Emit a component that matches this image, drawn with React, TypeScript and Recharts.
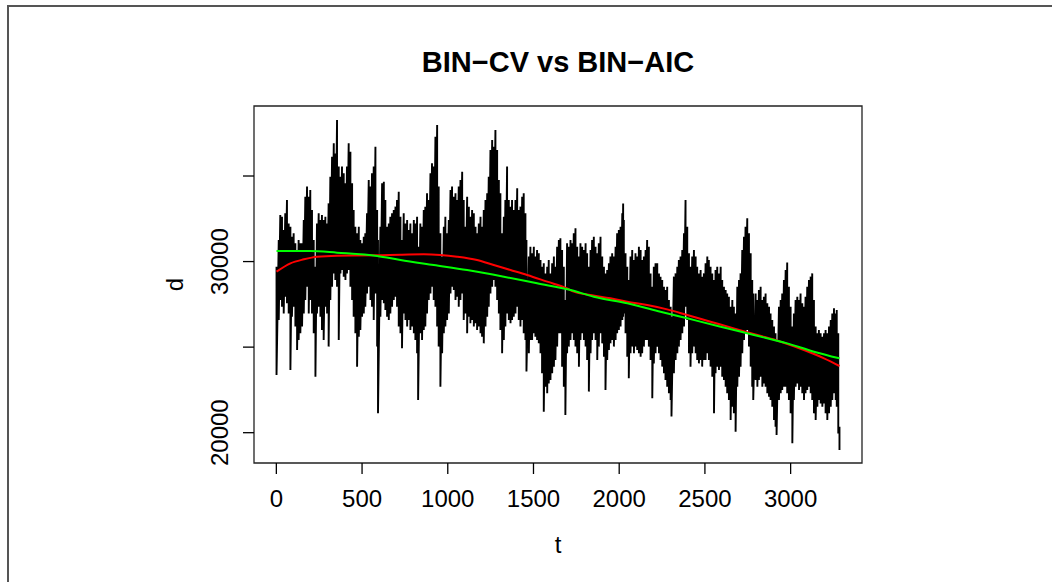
import React from "react";
import { LineChart, Line, XAxis, YAxis, ReferenceArea } from "recharts";

// ---- data ----
const X_TICKS = [0, 500, 1000, 1500, 2000, 2500, 3000];
const Y_TICKS = [20000, 25000, 30000, 35000];
const Y_LABELED = [20000, 30000];
const X_DOMAIN: [number, number] = [-130.36, 3416.36];
const Y_DOMAIN: [number, number] = [18229, 39091];

// sample days of the observed series; at each one the upper and lower extent of the
// daily values around it
const blackT = [
  1, 14, 23, 33, 43, 52, 62, 72, 82, 91, 101, 111, 121, 130, 140, 150, 160, 169, 179, 189,
  198, 208, 218, 228, 237, 247, 257, 266, 276, 286, 296, 305, 315, 325, 335, 344, 354, 364, 374, 383,
  393, 403, 412, 422, 432, 442, 451, 461, 471, 481, 490, 500, 510, 519, 529, 539, 549, 558, 568, 578,
  588, 593, 607, 617, 627, 636, 646, 656, 665, 675, 685, 695, 704, 714, 724, 733, 743, 753, 763, 772,
  782, 792, 802, 811, 821, 827, 840, 850, 860, 869, 879, 889, 899, 908, 918, 928, 938, 947, 957, 967,
  977, 986, 996, 1006, 1016, 1025, 1035, 1045, 1054, 1064, 1074, 1084, 1093, 1103, 1113, 1123, 1132, 1142, 1152, 1162,
  1171, 1181, 1191, 1200, 1210, 1220, 1230, 1239, 1249, 1259, 1268, 1278, 1288, 1298, 1307, 1317, 1327, 1336, 1346, 1356,
  1366, 1375, 1385, 1395, 1405, 1414, 1424, 1434, 1443, 1453, 1459, 1473, 1482, 1492, 1502, 1511, 1521, 1531, 1541, 1550,
  1560, 1570, 1580, 1589, 1599, 1609, 1619, 1628, 1638, 1648, 1657, 1667, 1677, 1686, 1696, 1706, 1716, 1726, 1735, 1745,
  1755, 1765, 1774, 1784, 1794, 1804, 1813, 1823, 1833, 1842, 1852, 1862, 1872, 1881, 1891, 1901, 1911, 1920, 1930, 1940,
  1949, 1959, 1969, 1979, 1988, 1998, 2008, 2018, 2023, 2027, 2037, 2047, 2056, 2066, 2076, 2086, 2095, 2105, 2115, 2125,
  2134, 2144, 2154, 2163, 2173, 2183, 2193, 2202, 2212, 2222, 2232, 2241, 2251, 2261, 2270, 2280, 2290, 2300, 2305, 2319,
  2329, 2339, 2348, 2358, 2368, 2378, 2387, 2397, 2407, 2416, 2426, 2436, 2446, 2455, 2465, 2475, 2484, 2494, 2504, 2514,
  2523, 2533, 2543, 2553, 2562, 2572, 2582, 2592, 2601, 2611, 2621, 2630, 2640, 2650, 2660, 2669, 2679, 2689, 2699, 2708,
  2718, 2728, 2737, 2747, 2757, 2767, 2776, 2782, 2796, 2806, 2815, 2825, 2835, 2844, 2854, 2864, 2874, 2883, 2893, 2903,
  2912, 2918, 2932, 2942, 2951, 2961, 2971, 2980, 2990, 3000, 3010, 3019, 3029, 3039, 3049, 3058, 3068, 3078, 3087, 3097,
  3107, 3117, 3126, 3136, 3146, 3156, 3165, 3175, 3185, 3195, 3204, 3214, 3224, 3234, 3243, 3253, 3263, 3269, 3278, 3285,
];

const blackHi = [
  29700, 31260, 32720, 32620, 31840, 32820, 33600, 32230, 32040, 31450, 31650, 31070, 30680, 31260, 31070, 31070, 32430, 33790, 34380, 33790,
  34180, 33010, 31260, 29700, 32230, 32820, 32430, 32720, 32430, 32620, 32230, 33400, 34960, 36130, 36910, 36320, 38270, 35550, 34960, 35550,
  35160, 34570, 35550, 36910, 36420, 34570, 33010, 32040, 31650, 32040, 31260, 31070, 31450, 31650, 32820, 34770, 34380, 35160, 35550, 36710,
  33010, 31260, 32040, 34570, 34670, 33600, 32040, 32230, 32620, 32820, 33010, 33210, 33600, 34080, 32620, 31260, 32820, 32230, 32430, 31840,
  32230, 31650, 32430, 32230, 32620, 30870, 32230, 32040, 33010, 33210, 33990, 33600, 35160, 35740, 35550, 37300, 37980, 34380, 31650, 30290,
  32040, 32620, 31650, 32430, 34180, 34380, 33790, 33990, 33600, 34380, 34770, 35250, 33600, 32040, 33790, 33210, 32620, 33010, 32820, 32040,
  31650, 32230, 32620, 32040, 33010, 33600, 33990, 34960, 36520, 37100, 36710, 37690, 36520, 34770, 33990, 31650, 32620, 33600, 35550, 33600,
  33210, 33600, 33010, 33600, 34280, 33010, 33210, 33790, 33990, 32820, 31260, 30290, 30870, 30480, 30870, 30290, 30680, 30480, 30090, 29700,
  29900, 29310, 29700, 30090, 29310, 29900, 30290, 29700, 30870, 31260, 31360, 30680, 29700, 27750, 31070, 30870, 31260, 31070, 31650, 31940,
  30870, 30290, 31070, 30870, 30680, 31070, 30480, 29700, 30680, 31260, 31450, 30870, 30480, 31070, 31450, 30290, 29700, 29310, 29510, 29900,
  30290, 30480, 30290, 30870, 31650, 31840, 32040, 32820, 33400, 32430, 30480, 29700, 28920, 30290, 30680, 30090, 30480, 30290, 30870, 30680,
  30090, 30290, 30680, 31260, 30870, 29310, 28530, 29700, 29900, 29900, 29310, 29120, 28920, 28530, 28340, 28530, 27750, 27360, 26780, 29120,
  29310, 29700, 30090, 30290, 30680, 31650, 33600, 32040, 30480, 29700, 30290, 30680, 30290, 29700, 29310, 29510, 29120, 29310, 29900, 30290,
  30090, 29700, 29310, 28920, 29510, 29700, 29310, 29700, 28920, 28530, 28340, 28140, 27950, 27360, 27750, 27360, 26970, 28530, 28920, 29310,
  30680, 31450, 32040, 32530, 31650, 30480, 28920, 28140, 28140, 27750, 28340, 28530, 27750, 27950, 28140, 27560, 27360, 26970, 26580, 26200,
  25810, 25420, 27360, 27750, 28140, 28920, 29510, 29950, 28530, 27360, 26200, 26970, 27750, 27950, 27750, 28140, 27560, 27360, 27950, 28530,
  28920, 29120, 29310, 27750, 26200, 25810, 26000, 25810, 25610, 25810, 26000, 25810, 26200, 26580, 26970, 27270, 26970, 27170, 25810, 20350,
];

const blackLo = [
  23370, 26580, 27750, 27360, 26970, 27950, 27560, 26970, 23660, 26780, 27360, 26200, 24830, 25420, 25810, 26200, 26970, 27750, 28530, 26970,
  27750, 26970, 25810, 23270, 26970, 27360, 26780, 26000, 25420, 27360, 26970, 25030, 27750, 28530, 29310, 28920, 28530, 25420, 29310, 29510,
  29120, 28920, 29310, 29510, 28530, 27750, 26780, 25810, 23860, 25610, 26000, 26780, 26970, 27360, 28140, 28530, 27750, 27360, 26580, 28140,
  25030, 21130, 26780, 27750, 27560, 27170, 26780, 26580, 26970, 27360, 27750, 27950, 27360, 26200, 25810, 24930, 26970, 26580, 26200, 26580,
  26000, 26200, 25810, 25420, 24640, 21910, 25810, 25420, 26000, 26200, 26970, 27750, 28140, 28530, 27750, 27360, 26200, 25030, 22690, 24640,
  25810, 26200, 26580, 26970, 28140, 28530, 28340, 27750, 27950, 27360, 27750, 28140, 26580, 26970, 25810, 26780, 26390, 26580, 26200, 26390,
  26000, 26200, 25810, 25610, 25220, 26200, 26780, 27360, 28140, 28530, 28920, 28530, 27750, 26970, 26000, 24640, 25420, 26200, 26970, 26580,
  26390, 26580, 26780, 26970, 27360, 26580, 26200, 26580, 25810, 25420, 23570, 24640, 25420, 25420, 25810, 25610, 25420, 25220, 24640, 23470,
  21230, 22690, 22300, 22880, 23080, 23470, 23860, 24250, 25030, 25810, 25810, 23860, 22690, 21030, 24640, 25030, 25420, 25810, 25420, 25030,
  24640, 23860, 25420, 25810, 25420, 25030, 24250, 22400, 24640, 25420, 25810, 25420, 24250, 25030, 25810, 25220, 24440, 22490, 24250, 24830,
  25220, 25420, 25030, 25420, 25810, 26000, 26200, 26580, 26780, 26970, 25810, 24440, 23180, 24640, 25030, 24640, 25030, 24830, 24640, 24440,
  24640, 25030, 25420, 25420, 25030, 24250, 22010, 24050, 24640, 25030, 24640, 24250, 23860, 23470, 23080, 22690, 22300, 21910, 20940, 23470,
  24250, 24640, 25030, 25420, 25810, 26200, 27360, 26580, 24640, 23860, 24640, 25030, 24640, 24250, 24050, 24250, 23860, 24250, 24250, 24640,
  24250, 23860, 23270, 21130, 23470, 23860, 23660, 23860, 23270, 23080, 22690, 22300, 21910, 20740, 21520, 21130, 20060, 22690, 23270, 23860,
  24640, 25420, 25810, 26000, 25030, 23860, 22690, 21910, 23080, 22690, 23080, 23270, 22690, 22880, 22690, 22300, 22100, 21910, 21520, 20740,
  20350, 19860, 21910, 22300, 22490, 22690, 22690, 22300, 21910, 21130, 19380, 21910, 22690, 22880, 22490, 22690, 22300, 21910, 22300, 22490,
  22690, 22300, 21910, 21130, 20740, 21520, 21910, 21710, 21520, 21710, 21130, 20740, 21130, 21520, 21910, 22300, 21910, 21520, 19960, 18990,
];

// BIN-CV fit (red)
const cvT = [1, 82, 160, 237, 354, 588, 724, 860, 957, 1054, 1171, 1268, 1366, 1463, 1580, 1696, 1735, 1833, 1949, 2047, 2163, 2280, 2397, 2533, 2669, 2806, 2942, 3078, 3195, 3285];
const cvD = [29410, 29896, 30130, 30285, 30344, 30364, 30402, 30422, 30383, 30285, 30091, 29799, 29506, 29214, 28825, 28436, 28240, 28046, 27851, 27656, 27461, 27208, 26877, 26487, 26097, 25708, 25318, 24831, 24344, 23897];

// BIN-AIC fit (green)
const aicT = [1, 198, 354, 588, 724, 918, 1113, 1327, 1521, 1716, 1852, 2047, 2241, 2397, 2592, 2786, 2980, 3136, 3285];
const aicD = [30617, 30617, 30520, 30325, 30091, 29799, 29507, 29117, 28728, 28338, 27948, 27559, 27072, 26683, 26196, 25708, 25221, 24734, 24345];

// ---- build tables ----
const blackData: { t: number; d: number }[] = [];
blackT.forEach((t, i) => {
  blackData.push({ t, d: blackHi[i] });
  blackData.push({ t, d: blackLo[i] });
});
const cvData = cvT.map((t, i) => ({ t, d: cvD[i] }));
const aicData = aicT.map((t, i) => ({ t, d: aicD[i] }));

// ---- layout ----
const W = 1052;
const H = 582;
const PLOT_LEFT = 254;
const PLOT_RIGHT = 862;
const PLOT_TOP = 106;
const PLOT_BOTTOM = 463;
const Y_AXIS_W = 60;
const X_AXIS_H = 40;
const FONT = "'Liberation Sans', Arial, Helvetica, sans-serif";
const TICK_FS = 24;

const XTick = (props: any) => {
  const { x, payload } = props;
  return (
    <text x={x} y={PLOT_BOTTOM + 44} textAnchor="middle" fontFamily={FONT} fontSize={TICK_FS} fill="#000">
      {payload.value}
    </text>
  );
};

const YTick = (props: any) => {
  const { y, payload } = props;
  if (!Y_LABELED.includes(payload.value)) return <g />;
  const bx = PLOT_LEFT - 26;
  return (
    <text
      x={bx}
      y={y}
      transform={`rotate(-90, ${bx}, ${y})`}
      textAnchor="middle"
      fontFamily={FONT}
      fontSize={TICK_FS}
      fill="#000"
    >
      {payload.value}
    </text>
  );
};

export default function App() {
  const cx = (PLOT_LEFT + PLOT_RIGHT) / 2;
  const cy = (PLOT_TOP + PLOT_BOTTOM) / 2;
  return (
    <div style={{ position: "relative", width: W, height: H, background: "#fff", overflow: "hidden" }}>
      <style>{"body{margin:0;}"}</style>
      <div
        style={{
          position: "absolute",
          left: 7,
          top: 5,
          width: W,
          height: H,
          borderLeft: "2px solid #555",
          borderTop: "2px solid #555",
        }}
      />
      <div style={{ position: "absolute", left: 0, top: 0 }}>
        <LineChart
          width={W}
          height={H}
          margin={{
            top: PLOT_TOP,
            left: PLOT_LEFT - Y_AXIS_W,
            right: W - PLOT_RIGHT,
            bottom: H - PLOT_BOTTOM - X_AXIS_H,
          }}
        >
          <XAxis
            dataKey="t"
            type="number"
            domain={X_DOMAIN}
            ticks={X_TICKS}
            allowDataOverflow
            interval={0}
            axisLine={false}
            tickSize={11}
            tickLine={{ stroke: "#000", strokeWidth: 1.3 }}
            tick={<XTick />}
            height={X_AXIS_H}
          />
          <YAxis
            dataKey="d"
            type="number"
            domain={Y_DOMAIN}
            ticks={Y_TICKS}
            allowDataOverflow
            interval={0}
            axisLine={false}
            tickSize={11}
            tickLine={{ stroke: "#000", strokeWidth: 1.3 }}
            tick={<YTick />}
            width={Y_AXIS_W}
          />
          <Line
            data={blackData}
            dataKey="d"
            type="linear"
            stroke="#000"
            strokeWidth={1.9}
            strokeLinejoin="miter"
            dot={false}
            isAnimationActive={false}
          />
          <Line
            data={cvData}
            dataKey="d"
            type="monotone"
            stroke="#ff0000"
            strokeWidth={2}
            dot={false}
            isAnimationActive={false}
          />
          <Line
            data={aicData}
            dataKey="d"
            type="monotone"
            stroke="#00ff00"
            strokeWidth={2}
            dot={false}
            isAnimationActive={false}
          />
          <ReferenceArea
            x1={X_DOMAIN[0]}
            x2={X_DOMAIN[1]}
            y1={Y_DOMAIN[0]}
            y2={Y_DOMAIN[1]}
            fill="none"
            stroke="#222"
            strokeWidth={1.3}
            ifOverflow="visible"
          />
        </LineChart>
      </div>
      <svg width={W} height={H} style={{ position: "absolute", left: 0, top: 0, pointerEvents: "none" }}>
        <text x={cx} y={72} textAnchor="middle" fontFamily={FONT} fontSize={29} fontWeight="bold" fill="#000">
          BIN−CV vs BIN−AIC
        </text>
        <text x={cx} y={553} textAnchor="middle" fontFamily={FONT} fontSize={TICK_FS} fill="#000">
          t
        </text>
        <text
          x={183}
          y={cy}
          transform={`rotate(-90, 183, ${cy})`}
          textAnchor="middle"
          fontFamily={FONT}
          fontSize={TICK_FS}
          fill="#000"
        >
          d
        </text>
      </svg>
    </div>
  );
}
